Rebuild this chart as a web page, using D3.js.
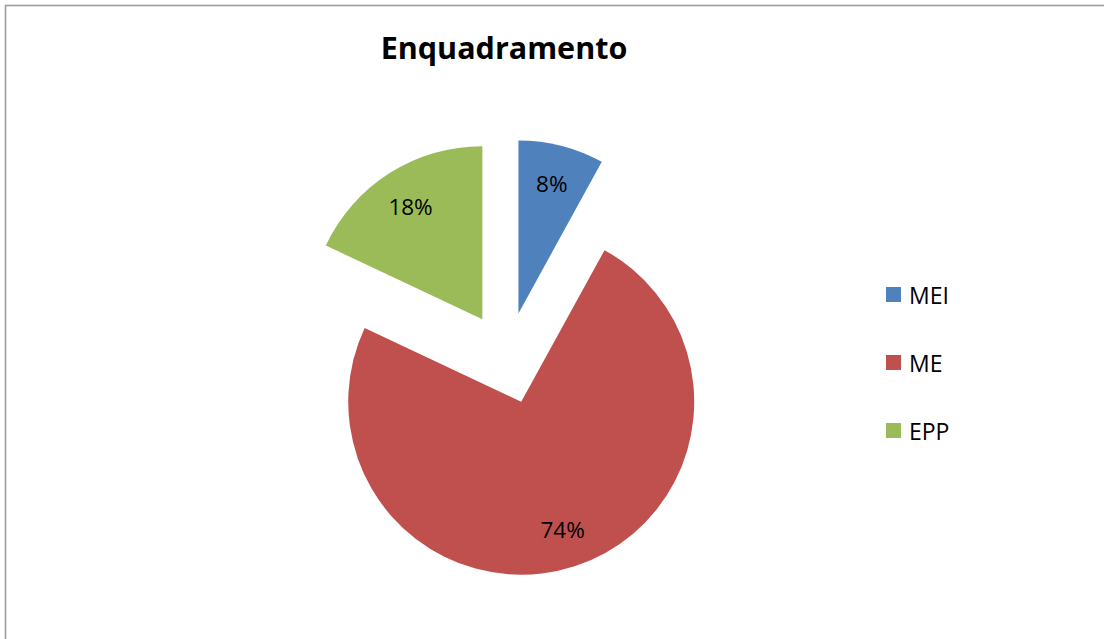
<!DOCTYPE html>
<html>
<head>
<meta charset="utf-8">
<script src="https://cdn.jsdelivr.net/npm/d3@7/dist/d3.min.js"></script>
<style>
  html, body { margin: 0; padding: 0; background: #fff; }
  svg { display: block; }
  text { font-family: "Open Sans", "Noto Sans", sans-serif; }
</style>
</head>
<body>
<svg id="chart" width="1104" height="639"></svg>
<script>
// Chart content
const title = "Enquadramento";
const categories = ["MEI", "ME", "EPP"];
const values = [8, 74, 18];
const valueLabels = ["8%", "74%", "18%"];
const colors = ["#4F81BD", "#C0504D", "#9BBB59"];

const svg = d3.select("#chart");

// Chart frame (continues past the right and bottom edges)
svg.append("rect")
  .attr("x", 5.5).attr("y", 5.5)
  .attr("width", 1200).attr("height", 700)
  .attr("fill", "#fff")
  .attr("stroke", "#9d9d9d")
  .attr("stroke-width", 1.6);

// Title
svg.append("text")
  .attr("x", 504).attr("y", 59)
  .attr("text-anchor", "middle")
  .attr("font-weight", "bold")
  .attr("font-size", 30.5)
  .attr("fill", "#000")
  .text(title);

// Pie geometry: every slice pulled out from the centre along its mid-angle
const cx = 507, cy = 358, radius = 173, explode = 46, labelDist = 134;

const pie = d3.pie().sort(null).value(d => d.value).startAngle(0).endAngle(2 * Math.PI);
const data = categories.map((c, i) => ({ cat: c, value: values[i], label: valueLabels[i], color: colors[i] }));
const arcs = pie(data);
const arc = d3.arc().innerRadius(0).outerRadius(radius);

const g = svg.append("g").attr("transform", `translate(${cx},${cy})`);

const slices = g.selectAll("g.slice")
  .data(arcs)
  .join("g")
  .attr("class", "slice")
  .attr("transform", d => {
    const mid = (d.startAngle + d.endAngle) / 2;
    return `translate(${explode * Math.sin(mid)},${-explode * Math.cos(mid)})`;
  });

slices.append("path")
  .attr("d", arc)
  .attr("fill", d => d.data.color);

slices.append("text")
  .attr("x", d => labelDist * Math.sin((d.startAngle + d.endAngle) / 2))
  .attr("y", d => -labelDist * Math.cos((d.startAngle + d.endAngle) / 2))
  .attr("text-anchor", "middle")
  .attr("dominant-baseline", "central")
  .attr("font-size", 22.5)
  .attr("fill", "#000")
  .text(d => d.data.label);

// Legend
const legend = svg.append("g").attr("transform", "translate(886,287)");
const item = legend.selectAll("g")
  .data(data)
  .join("g")
  .attr("transform", (d, i) => `translate(0,${i * 68})`);
item.append("rect")
  .attr("width", 15).attr("height", 15)
  .attr("fill", d => d.color);
item.append("text")
  .attr("x", 23).attr("y", 7.5)
  .attr("dominant-baseline", "central")
  .attr("font-size", 23)
  .attr("fill", "#000")
  .text(d => d.cat);
</script>
</body>
</html>
